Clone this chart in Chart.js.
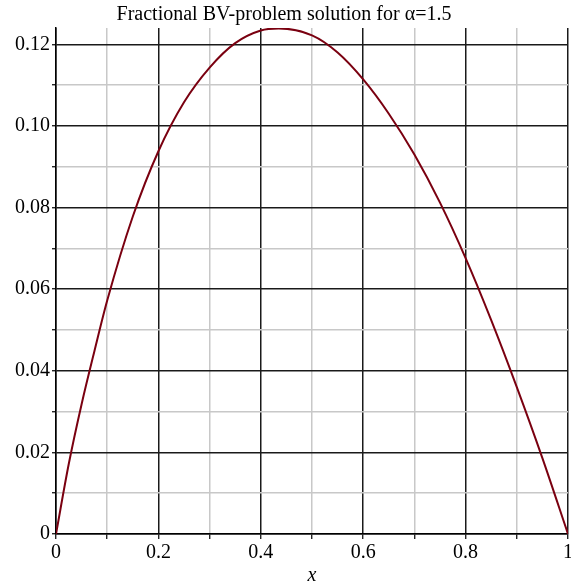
<!DOCTYPE html>
<html><head><meta charset="utf-8">
<script src="https://cdn.jsdelivr.net/npm/chart.js@4"></script>
<style>html,body{margin:0;padding:0;background:#fff;}</style>
</head><body>
<canvas id="c" width="571" height="587"></canvas>
<script>
const chartTitle = 'Fractional BV-problem solution for α=1.5';
const xAxisLabel = 'x';
const xValues = [0, 0.025, 0.05, 0.075, 0.1, 0.15, 0.2, 0.25, 0.3, 0.35, 0.4, 0.435, 0.5, 0.55, 0.6, 0.65, 0.7, 0.75, 0.8, 0.85, 0.9, 0.95, 1.0];
const yValues = [0, 0.0172, 0.0318, 0.0448, 0.0572, 0.0778, 0.0938, 0.1058, 0.1143, 0.1203, 0.1234, 0.1239, 0.1222, 0.1180, 0.1114, 0.1030, 0.0930, 0.0812, 0.0676, 0.0524, 0.0360, 0.0186, 0];
const xTickLabels = ['0', '0.2', '0.4', '0.6', '0.8', '1'];
const yTickLabels = ['0', '0.02', '0.04', '0.06', '0.08', '0.10', '0.12'];
const yMax = 0.124;

const serif = "'Liberation Serif', 'Times New Roman', serif";
const majorColor = '#1a1a1a';
const minorColor = '#c8c8c8';

const points = xValues.map((x, i) => ({x: x, y: yValues[i]}));

new Chart(document.getElementById('c'), {
  type: 'scatter',
  data: { datasets: [{
    data: points,
    showLine: true,
    borderColor: '#7a0010',
    borderWidth: 2,
    pointRadius: 0,
    cubicInterpolationMode: 'monotone',
    fill: false
  }]},
  options: {
    responsive: false,
    animation: false,
    layout: { padding: { left: 0, right: 3, top: 0, bottom: 0 } },
    plugins: {
      legend: { display: false },
      tooltip: { enabled: false },
      title: {
        display: true,
        text: chartTitle,
        color: '#000',
        font: { family: serif, size: 20, weight: 'normal', lineHeight: 1.1 },
        padding: { top: 4, bottom: 2 }
      }
    },
    scales: {
      x: {
        type: 'linear', min: 0, max: 1,
        afterFit: s => { s.height = 53; s.paddingLeft = 0; s.paddingRight = 0; },
        ticks: {
          stepSize: 0.1, autoSkip: false, maxRotation: 0, includeBounds: false,
          color: '#000', padding: 2,
          font: { family: serif, size: 20 },
          callback: v => { const i = Math.round(v * 10); return i % 2 === 0 ? xTickLabels[i / 2] : ''; }
        },
        grid: {
          color: c => (Math.round(c.tick.value * 10) % 2 === 0 ? majorColor : minorColor),
          lineWidth: 1.5, tickColor: '#000', tickLength: 5, tickWidth: 1.2
        },
        border: { display: true, color: '#000', width: 1.5 },
        title: {
          display: true, text: xAxisLabel, color: '#000',
          font: { family: serif, size: 20, style: 'italic', lineHeight: 1.1 },
          padding: { top: 0, bottom: 0 }
        }
      },
      y: {
        type: 'linear', min: 0, max: yMax,
        afterFit: s => { s.width = 56; s.paddingTop = 0; s.paddingBottom = 0; },
        ticks: {
          stepSize: 0.01, autoSkip: false, includeBounds: false,
          color: '#000', padding: 2,
          font: { family: serif, size: 20 },
          callback: v => { const i = Math.round(v * 100); return i % 2 === 0 ? (yTickLabels[i / 2] || '') : ''; }
        },
        grid: {
          color: c => (Math.round(c.tick.value * 100) % 2 === 0 ? majorColor : minorColor),
          lineWidth: 1.5, tickColor: '#000', tickLength: 4, tickWidth: 1.2
        },
        border: { display: true, color: '#000', width: 1.5 }
      }
    }
  }
});
</script>
</body></html>
